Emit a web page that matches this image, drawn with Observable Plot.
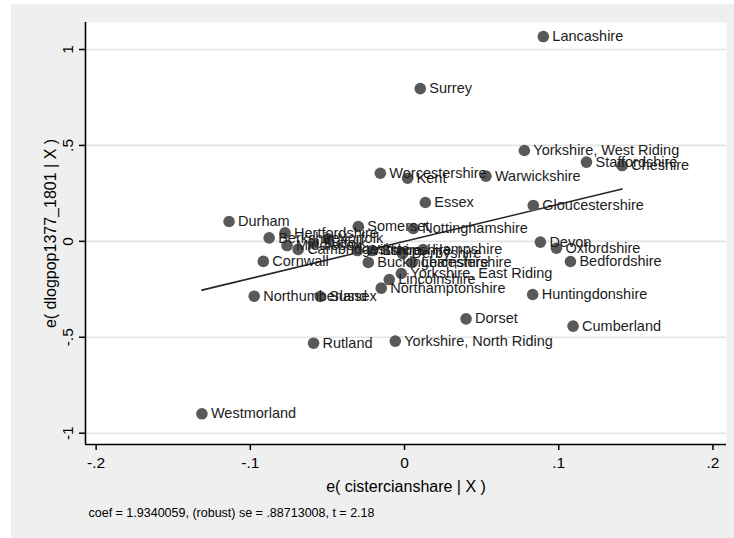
<!DOCTYPE html>
<html>
<head>
<meta charset="utf-8">
<script src="https://cdn.jsdelivr.net/npm/d3@7"></script>
<script src="https://cdn.jsdelivr.net/npm/@observablehq/plot@0.6"></script>
<style>
  html, body { margin: 0; padding: 0; background: #ffffff; }
  #wrap { padding: 4px 0 0 11px; }
  #wrap svg { display: block; }
</style>
</head>
<body>
<div id="wrap"></div>
<script>
// County residuals (added-variable plot)
const counties = [
  "Lancashire", "Surrey", "Yorkshire, West Riding", "Staffordshire", "Cheshire",
  "Worcestershire", "Kent", "Warwickshire", "Essex", "Gloucestershire",
  "Durham", "Somerset", "Nottinghamshire", "Devon", "Oxfordshire",
  "Bedfordshire", "Huntingdonshire", "Cumberland", "Dorset", "Yorkshire, North Riding",
  "Rutland", "Westmorland", "Northumberland", "Sussex", "Northamptonshire",
  "Lincolnshire", "Yorkshire, East Riding", "Cornwall", "Hampshire", "Buckinghamshire",
  "Shropshire", "Leicestershire", "Berkshire", "Hertfordshire", "Middlesex",
  "Cambridgeshire", "Suffolk", "Norfolk", "Wiltshire", "Derbyshire"
];
const cistercianResid = [
  0.0900, 0.0102, 0.0777, 0.1180, 0.1411,
  -0.0157, 0.0020, 0.0528, 0.0135, 0.0835,
  -0.1138, -0.0300, 0.0057, 0.0881, 0.0985,
  0.1076, 0.0831, 0.1093, 0.0399, -0.0060,
  -0.0590, -0.1314, -0.0975, -0.0547, -0.0151,
  -0.0099, -0.0021, -0.0916, 0.0121, -0.0235,
  -0.0209, 0.0050, -0.0878, -0.0775, -0.0762,
  -0.0690, -0.0592, -0.0495, -0.0306, -0.0013
];
const popResid = [
  1.0675, 0.796, 0.4736, 0.413, 0.395,
  0.355, 0.329, 0.3397, 0.2025, 0.187,
  0.1034, 0.0774, 0.067, -0.004, -0.036,
  -0.105, -0.277, -0.442, -0.404, -0.520,
  -0.531, -0.899, -0.286, -0.2875, -0.244,
  -0.199, -0.1676, -0.1046, -0.0425, -0.110,
  -0.048, -0.110, 0.018, 0.044, -0.022,
  -0.042, -0.010, 0.013, -0.048, -0.064
];
const coef = 1.9340059;
const captionText = "coef = 1.9340059, (robust) se = .88713008, t = 2.18";
const xTitle = "e( cistercianshare | X )";
const yTitle = "e( dlogpop1377_1801 | X )";
const xTicks = [-0.2, -0.1, 0, 0.1, 0.2];
const yTicks = [-1, -0.5, 0, 0.5, 1];
const xDomain = [-0.2069, 0.2088];
const yDomain = [-1.0589, 1.1407];

const points = counties.map((name, i) => ({name, x: cistercianResid[i], y: popResid[i]}));
const [xmin, xmax] = d3.extent(cistercianResid);
const fitted = [{x: xmin, y: coef * xmin}, {x: xmax, y: coef * xmax}];

const fmt = d => d === 0 ? "0" : (d < 0 ? "-" : "") + String(Math.abs(d)).replace(/^0/, "");

const chart = Plot.plot({
  width: 723,
  height: 534,
  marginLeft: 74,
  marginTop: 18,
  marginRight: 8,
  marginBottom: 94,
  style: {background: "#efefef", fontFamily: "'Liberation Sans', Arial, sans-serif", color: "#000", overflow: "visible"},
  x: {domain: xDomain},
  y: {domain: yDomain},
  marks: [
    Plot.frame({fill: "white", stroke: null}),
    Plot.gridY(yTicks, {stroke: "#e3e3e3", strokeOpacity: 1, strokeWidth: 1.6}),
    Plot.ruleX([xDomain[0]], {stroke: "#000", strokeWidth: 1.6}),
    Plot.ruleY([yDomain[0]], {stroke: "#000", strokeWidth: 1.6}),
    Plot.axisX({ticks: xTicks, tickSize: 6, tickPadding: 6, tickFormat: fmt, fontSize: 15.5, label: null, strokeWidth: 1.5}),
    Plot.axisY({ticks: yTicks, tickSize: 6, tickFormat: () => "", label: null, strokeWidth: 1.5}),
    Plot.text(yTicks, {y: d => d, text: fmt, frameAnchor: "left", dx: -17, rotate: -90, fontSize: 15.5, textAnchor: "middle", lineAnchor: "middle"}),
    Plot.text([yTitle], {text: d => d, frameAnchor: "left", dx: -35, rotate: -90, fontSize: 16, textAnchor: "middle", lineAnchor: "middle"}),
    Plot.text([xTitle], {text: d => d, frameAnchor: "bottom", dy: 42, fontSize: 16, lineAnchor: "middle"}),
    Plot.text([captionText], {text: d => d, frameAnchor: "bottom-left", dx: 3, dy: 68, fontSize: 12.5, textAnchor: "start", lineAnchor: "middle"}),
    Plot.line(fitted, {x: "x", y: "y", stroke: "#262626", strokeWidth: 1.6}),
    Plot.dot(points, {x: "x", y: "y", r: 5.8, fill: "#595959", stroke: null}),
    Plot.text(points, {x: "x", y: "y", text: "name", dx: 9, textAnchor: "start", fontSize: 14.5, fill: "#1c1c1c", lineAnchor: "middle"})
  ]
});
document.getElementById("wrap").appendChild(chart);
</script>
</body>
</html>
